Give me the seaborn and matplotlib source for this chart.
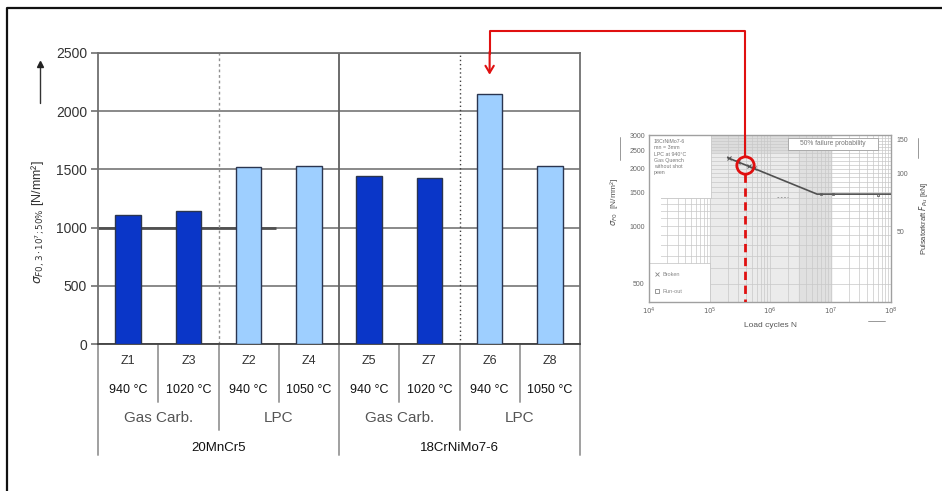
import matplotlib
matplotlib.use("Agg")
import matplotlib.pyplot as plt
import matplotlib.transforms as mtransforms
import matplotlib.ticker as mticker
from matplotlib.lines import Line2D
from matplotlib.patches import Rectangle
import numpy as np
import pandas as pd
import seaborn as sns

# ---------------- data ----------------
samples = ["Z1", "Z3", "Z2", "Z4", "Z5", "Z7", "Z6", "Z8"]
strength = [1105, 1145, 1522, 1532, 1443, 1430, 2150, 1532]
temps = ["940 °C", "1020 °C", "940 °C", "1050 °C", "940 °C", "1020 °C", "940 °C", "1050 °C"]
processes = ["Gas Carb.", "LPC", "Gas Carb.", "LPC"]
steels = ["20MnCr5", "18CrNiMo7-6"]
proc_kind = ["gas", "gas", "lpc", "lpc", "gas", "gas", "lpc", "lpc"]
yticks_main = [0, 500, 1000, 1500, 2000, 2500]

# inset S-N curve
sn_N = [2.0e5, 6.0e6, 1.0e8]
sn_s = [2280, 1470, 1470]
broken_N = [2.1e5, 3.0e5, 4.5e5, 5.5e5]
broken_s = [2270, 2160, 2060, 2020]
runout_N = [7.0e6, 1.1e7, 6.0e7]
runout_s = [1480, 1475, 1460]
mark_N, mark_s = 3.9e5, 2094
inset_yticks = [500, 1000, 1500, 2000, 2500, 3000]
inset_xticks = [1e4, 1e5, 1e6, 1e7, 1e8]
force_ticks = [50, 100, 150]
force_per_stress = 0.0531

# ---------------- style ----------------
sns.set_style("white")
plt.rcParams["font.family"] = ["Liberation Sans", "DejaVu Sans"]
plt.rcParams["mathtext.fontset"] = "dejavusans"

W, H = 942, 491
fig = plt.figure(figsize=(W / 100, H / 100), dpi=100)

def fx(px):
    return px / W

def fy(py):
    return 1 - py / H

# ---------------- main bar chart ----------------
ax = fig.add_axes([fx(98), fy(344), fx(580) - fx(98), fy(53) - fy(344)])
df = pd.DataFrame({"sample": samples, "value": strength, "kind": proc_kind})
pal = {s: ("#0a36c8" if k == "gas" else "#9ecfff") for s, k in zip(samples, proc_kind)}
sns.barplot(data=df, x="sample", y="value", hue="sample", palette=pal, legend=False,
            width=0.42, saturation=1, edgecolor="#2a3550", linewidth=1.0, ax=ax, zorder=3)
ax.set_xlim(-0.5, len(samples) - 0.5)
ax.set_ylim(0, 2500)
ax.set_yticks(yticks_main)
ax.set_xticks([])
ax.set_xlabel("")
ax.set_ylabel("")
ax.yaxis.grid(True, color="#808080", lw=1.3, zorder=0)
ax.set_axisbelow(True)
for sp in ax.spines.values():
    sp.set_color("#707070")
    sp.set_linewidth(1.3)
ax.spines["bottom"].set_color("#404040")
ax.tick_params(axis="y", length=5, width=1.2, color="#707070", labelsize=10,
               labelcolor="#333333", pad=3, left=True)
# reference line at 1000 (darker)
ax.hlines(1000, -0.5, 2.45, color="#505050", lw=2.0, zorder=1)
# vertical separators
ax.axvline(1.5, color="#909090", lw=1.0, ls=(0, (2, 2)), zorder=1)
ax.axvline(3.5, color="#606060", lw=1.3, zorder=1)
ax.axvline(5.5, color="#404040", lw=1.0, ls=(0, (1, 2)), zorder=1)

# y label with arrow
fig.text(fx(38), fy(222), r"$\sigma_{F0,3\cdot10^7;50\%}$ [N/mm²]", rotation=90,
         ha="center", va="center", fontsize=9, color="#333333")
fig.add_artist(Line2D([fx(40), fx(40)], [fy(103), fy(66)], color="#333333", lw=1.0))
fig.add_artist(Line2D([fx(40)], [fy(64)], marker="^", ms=4, color="#222222"))

# ---------------- table below ----------------
trans = mtransforms.blended_transform_factory(ax.transData, fig.transFigure)
n = len(samples)
lc = "#a0a0a0"
for b in np.arange(-0.5, n, 1.0):
    i = int(b + 0.5)
    if i % 4 == 0:
        y_end = 455
    elif i % 2 == 0:
        y_end = 430
    else:
        y_end = 402
    ax.plot([b, b], [fy(345), fy(y_end)], color=lc, lw=1.4, transform=trans, clip_on=False)
for i, (s, t) in enumerate(zip(samples, temps)):
    ax.text(i, fy(361), s, transform=trans, ha="center", va="center", fontsize=9, color="#333333")
    ax.text(i, fy(390), t, transform=trans, ha="center", va="center", fontsize=9, color="#111111")
for j, p in enumerate(processes):
    ax.text(2 * j + 0.5, fy(418), p, transform=trans, ha="center", va="center",
            fontsize=11, color="#555555")
for k, s in enumerate(steels):
    ax.text(4 * k + 1.5, fy(448), s, transform=trans, ha="center", va="center",
            fontsize=9.5, color="#111111")

# ---------------- inset S-N diagram ----------------
ins = fig.add_axes([fx(649), fy(302), fx(891) - fx(649), fy(135) - fy(302)])
ins.set_xscale("log")
ins.set_yscale("log")
ins.set_xlim(1e4, 1e8)
ins.set_ylim(400, 3000)
ins.axvspan(1e5, 1e7, color="#ebebeb", zorder=0)
ins.axvspan(3e6, 1e7, color="#e0e0e0", zorder=0)
ins.axhspan(2450, 3000, xmin=0.25, xmax=0.75, color="#dcdcdc", zorder=0)
ins.grid(True, which="both", color="#c8c8c8", lw=0.5, zorder=1)
ins.yaxis.set_minor_locator(mticker.FixedLocator(np.arange(400, 3000, 100)))
ins.set_xticks(inset_xticks)
ins.set_xticklabels([r"$10^{%d}$" % int(np.log10(v)) for v in inset_xticks])
ins.set_yticks(inset_yticks)
ins.set_yticklabels([str(v) for v in inset_yticks])
ins.yaxis.set_minor_formatter(mticker.NullFormatter())
ins.tick_params(which="both", labelsize=5, labelcolor="#666666", length=0, pad=3)
for sp in ins.spines.values():
    sp.set_color("#a0a0a0")
    sp.set_linewidth(1.0)
# white boxes
ins.add_patch(Rectangle((1e4, 1395), 1.05e5 - 1e4, 3000 - 1395, facecolor="white",
                        edgecolor="#c0c0c0", lw=0.5, zorder=2))
ins.add_patch(Rectangle((1e4, 640), 1.6e4 - 1e4, 1395 - 640, facecolor="white",
                        edgecolor="none", zorder=2))
ins.add_patch(Rectangle((1e4, 400), 1.0e5 - 1e4, 640 - 400, facecolor="white",
                        edgecolor="#c0c0c0", lw=0.5, zorder=2))
ins.add_patch(Rectangle((2.0e6, 2510), 6.0e7 - 2.0e6, 2890 - 2510, facecolor="white",
                        edgecolor="#a0a0a0", lw=0.6, zorder=2))
ins.text(1.2e4, 2850, "18CrNiMo7-6\nmn = 3mm\nLPC at 940°C\nGas Quench\nwithout shot\npeen",
         fontsize=3.8, color="#777777", va="top", ha="left", zorder=3, linespacing=1.3)
ins.text(1.1e7, 2700, "50% failure probability", fontsize=4.8, color="#777777",
         ha="center", va="center", zorder=3)
ins.plot([1.35e4], [560], marker="x", ms=2.5, color="#888888", zorder=3, mew=0.6)
ins.text(1.7e4, 560, "Broken", fontsize=4, color="#888888", va="center", zorder=3)
ins.plot([1.35e4], [455], marker="s", ms=2.2, mfc="none", color="#888888", zorder=3, mew=0.6)
ins.text(1.7e4, 455, "Run-out", fontsize=4, color="#888888", va="center", zorder=3)
# curve
ins.plot(sn_N, sn_s, color="#505050", lw=1.2, zorder=4)
ins.plot(broken_N, broken_s, ls="none", marker="x", ms=2.5, color="#505050", mew=0.7, zorder=4)
ins.plot(runout_N, runout_s, ls="none", marker="s", ms=2, mfc="none", color="#606060",
         mew=0.6, zorder=4)
ins.plot([1.3e6, 2.0e6], [1420, 1420], color="#909090", lw=0.6, ls=(0, (2, 2)), zorder=4)
# labels
ins.set_xlabel("Load cycles N", fontsize=6, color="#555555", labelpad=3)
ins.set_ylabel(r"$\sigma_{F0}$  [N/mm²]", fontsize=6, color="#555555")
ins.yaxis.set_label_coords(-0.12, 0.6)
fig.add_artist(Line2D([fx(620), fx(620)], [fy(160), fy(137)], color="#888888", lw=0.6))
fig.add_artist(Line2D([fx(868), fx(885)], [fy(321), fy(321)], color="#888888", lw=0.6))
sec = ins.secondary_yaxis("right", functions=(lambda s: s * force_per_stress,
                                              lambda f: f / force_per_stress))
sec.yaxis.set_major_locator(mticker.FixedLocator(force_ticks))
sec.yaxis.set_major_formatter(mticker.FixedFormatter([str(v) for v in force_ticks]))
sec.yaxis.set_minor_locator(mticker.NullLocator())
sec.yaxis.set_minor_formatter(mticker.NullFormatter())
sec.tick_params(which="both", labelsize=5, labelcolor="#666666", length=0, pad=4)
sec.spines["right"].set_visible(False)
sec.set_ylabel(r"Pulsatorkraft $F_{Pu}$ [kN]", fontsize=5.5, color="#444444", labelpad=6)
fig.add_artist(Line2D([fx(918), fx(918)], [fy(158), fy(138)], color="#888888", lw=0.6))

# red marker circle + dashed line
ins.plot([mark_N], [mark_s], marker="o", ms=12.5, mfc="none", mec="#e01010", mew=2.0, zorder=6)
ins.plot([mark_N, mark_N], [1870, 400], color="#e01010", lw=2.0, ls=(0, (3, 2)), zorder=6)

# ---------------- red connector ----------------
fig.canvas.draw()
cx, cy = ins.transData.transform((mark_N, mark_s))
bx, by = ax.transData.transform((samples.index("Z6"), strength[samples.index("Z6")]))
top_y = H - 31
r_px = 9
red = "#e01010"
fig.add_artist(Line2D([fx(cx), fx(cx), bx / W, bx / W],
                      [(cy + r_px) / H, top_y / H, top_y / H, (by + 40) / H],
                      color=red, lw=1.5))
ax.annotate("", xy=(bx, by + 19), xytext=(bx, by + 42), xycoords="figure pixels",
            textcoords="figure pixels",
            arrowprops=dict(arrowstyle="->,head_length=0.5,head_width=0.3", color=red, lw=1.5,
                            shrinkA=0, shrinkB=0))

# ---------------- outer frame (cropped) ----------------
fig.add_artist(Line2D([fx(7), fx(7), 1.0], [0.0, fy(8), fy(8)], color="#111111", lw=1.6))

fig.savefig("out.png", dpi=100)
